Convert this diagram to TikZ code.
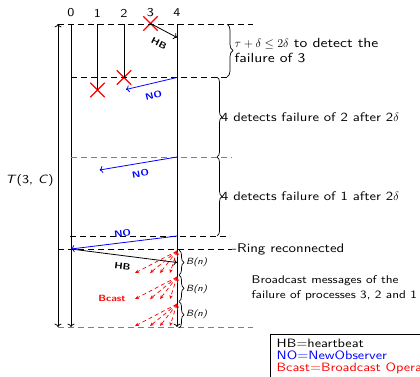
\documentclass[tikz,border=0pt]{standalone}
\usepackage{fontspec}
\setsansfont{lmsans10-regular.otf}[
  BoldFont=lmsans10-bold.otf,
  ItalicFont=lmsans10-oblique.otf,
  BoldItalicFont=lmsans10-boldoblique.otf,
  FakeStretch=1.18]
\usetikzlibrary{arrows.meta,decorations.pathreplacing,shapes.misc}
\newcommand\fsz[2]{\sffamily\fontsize{#1}{#2}\selectfont}
\begin{document}
\begin{tikzpicture}[x=1pt,y=-1pt,
  proc/.style={line width=0.8pt},
  sep/.style={dash pattern=on 6pt off 4pt, line width=0.8pt},
  lab/.style={font=\fsz{12.5}{15.5}, inner sep=0pt},
  msg/.style={font=\sffamily\bfseries\fontsize{9}{11}\selectfont, inner sep=0pt},
  small/.style={font=\sffamily\itshape\fontsize{9}{11}\selectfont, inner sep=0pt},
  crossmark/.style={cross out, draw=red, line width=1.3pt, minimum size=13pt, inner sep=0pt},
  brc/.style={decorate, line width=0.7pt},
  hbarrow/.style={line width=0.8pt, ->},
  noarrow/.style={line width=0.8pt, blue, ->},
  bcarrow/.style={red, line width=0.7pt, dash pattern=on 4pt off 3pt, -{Stealth[length=4pt,width=3.5pt]}},
]
\useasboundingbox (0,0) rectangle (420,377);
\clip (0,0) rectangle (420,377);

% process labels
\foreach \i/\x in {0/71,1/97.5,2/124,3/150.5,4/177}
  \node[lab, font=\fsz{12}{14}] (p\i) at (\x,13) {\i};

% crashed processes
\node[crossmark] (c3) at (150.5,23.5) {};
\node[crossmark] (c2) at (124,77.5) {};
\node[crossmark] (c1) at (97.5,90) {};

% time lines
\coordinate (ta) at (58,24);   \coordinate (tb) at (58,327);
\coordinate (top0) at (71,24); \coordinate (bot0) at (71,327);
\coordinate (top1) at (97.5,24);
\coordinate (top2) at (124,24);
\coordinate (top4) at (177,24); \coordinate (bot4) at (177,327);
\draw[proc,<->] (ta) -- (tb);
\draw[proc,->] (top0) -- (bot0);
\draw[proc] (top1) -- (c1.center);
\draw[proc] (top2) -- (c2.center);
\draw[proc,->] (top4) -- (bot4);
\node[lab, font=\fsz{12}{14}] (T) at (29.5,180) {\textit{T}(3, \textit{C})};

% phase separators
\draw[sep] (58,24) -- (253,24);
\draw[sep] (71,77) -- (227,77);
\draw[sep, gray] (71,157) -- (232,157);
\draw[sep] (70,236) -- (230,236);
\draw[sep] (58,249) -- (232,249);
\draw[sep, gray] (58,327.5) -- (253,327.5);

% messages
\coordinate (hb1) at (177,37.5);
\draw[hbarrow] (c3.center) -- (hb1);
\node[msg, rotate=-27] (hbl1) at (159,43.5) {HB};

\coordinate (no1s) at (177,77.5); \coordinate (no1e) at (126,89.5);
\draw[noarrow] (no1s) -- (no1e);
\node[msg, blue, rotate=14] (nol1) at (153.5,95) {NO};

\coordinate (no2s) at (177,157); \coordinate (no2e) at (99.5,170);
\draw[noarrow] (no2s) -- (no2e);
\node[msg, blue, rotate=10] (nol2) at (140.5,173.5) {NO};

\coordinate (no3s) at (177,236); \coordinate (no3e) at (71,249);
\draw[noarrow] (no3s) -- (no3e);
\node[msg, blue, rotate=7] (nol3) at (122.5,233) {NO};

\coordinate (hb2e) at (177,262.5);
\draw[hbarrow] (no3e) -- (hb2e);
\node[msg, rotate=-7] (hbl2) at (122.5,266.5) {HB};

% broadcast waves
\foreach \s in {251,277,304} {
  \coordinate (bs\s) at (177,\s);
  \foreach \dx in {135,150,160,170}
    \draw[bcarrow] (bs\s) -- (\dx,\s+22);
  \draw[red, line width=0.7pt, -{Stealth[length=4pt,width=3.5pt]}] (177.5,\s+6) -- (bs\s);
}
\node[msg, red] (bcl) at (112,298) {Bcast};

% phase braces and comments
\draw[brc, decoration={brace, amplitude=6pt}] (227,24) -- (227,77);
\node[lab, font=\fsz{13.2}{15}, anchor=west, align=left] (t1) at (234.5,51)
  {$\tau+\delta\le2\delta$ to detect the\\failure of 3};
\draw[brc, decoration={brace, amplitude=5pt}] (217,77) -- (217,157);
\node[lab, font=\fsz{12.4}{14}, anchor=west] (t2) at (221,117.5) {4 detects failure of 2 after 2$\delta$};
\draw[brc, decoration={brace, amplitude=5pt}] (217,157) -- (217,236);
\node[lab, font=\fsz{12.4}{14}, anchor=west] (t3) at (221,196.5) {4 detects failure of 1 after 2$\delta$};

\node[lab, font=\fsz{12.6}{15}, anchor=west] (ring) at (232,249) {-Ring reconnected};

\foreach \a/\b/\m in {250/275/262,275/301.5/289,301.5/328/314.5} {
  \draw[brc, decoration={brace, amplitude=5pt}] (179,\a) -- (179,\b);
  \node[small, anchor=west] at (186,\m) {B(\textit{n})};
}
\node[lab, font=\fsz{11.2}{15.5}, anchor=west, align=left] (bm) at (251.5,288)
  {Broadcast messages of the\\failure of processes 3, 2 and 1};

% legend
\draw[proc] (270,334) rectangle (440,400);
\node[lab, font=\fsz{12.1}{14}, anchor=base west] (l1) at (276.5,347.5) {HB=heartbeat};
\node[lab, font=\fsz{12.1}{14}, anchor=base west, blue] (l2) at (276.5,359.5) {NO=NewObserver};
\node[lab, font=\fsz{12.1}{14}, anchor=base west, red] (l3) at (276.5,371.5) {Bcast=Broadcast Operation};
\end{tikzpicture}
\end{document}
